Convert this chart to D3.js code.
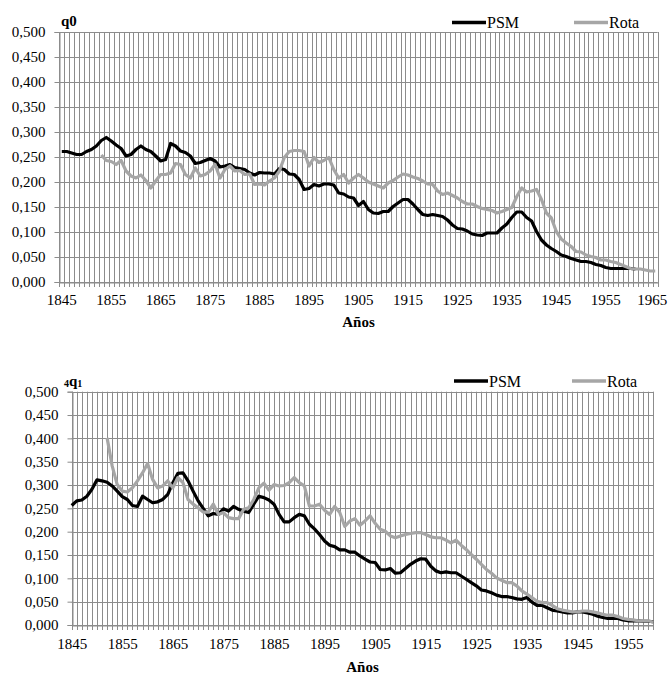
<!DOCTYPE html>
<html><head><meta charset="utf-8">
<script src="https://cdn.jsdelivr.net/npm/d3@7"></script>
<style>
html,body{margin:0;padding:0;background:#fff;}
svg{display:block;}
</style></head>
<body><svg id="c" width="668" height="676" font-family="Liberation Serif"></svg>
<script>
// ---------- DATA ----------
const seriesNames = ["PSM", "Rota"];
const yTicks = [0, 0.05, 0.1, 0.15, 0.2, 0.25, 0.3, 0.35, 0.4, 0.45, 0.5];
const xLabelYears = [1845, 1855, 1865, 1875, 1885, 1895, 1905, 1915, 1925, 1935, 1945, 1955, 1965];
const xLabelYears2 = [1845, 1855, 1865, 1875, 1885, 1895, 1905, 1915, 1925, 1935, 1945, 1955];

// Chart 1: q0
const q0Years = d3.range(1845, 1966);
const q0PsmStart = 1845;
const q0Psm = [0.261,0.261,0.258,0.255,0.255,0.261,0.265,0.272,0.283,0.289,
  0.282,0.274,0.267,0.252,0.255,0.265,0.272,0.265,0.261,0.252,
  0.242,0.245,0.277,0.272,0.262,0.259,0.252,0.237,0.239,0.243,
  0.247,0.242,0.230,0.232,0.235,0.229,0.227,0.225,0.218,0.214,
  0.219,0.218,0.218,0.216,0.227,0.225,0.216,0.215,0.205,0.185,
  0.187,0.195,0.192,0.196,0.196,0.194,0.178,0.176,0.170,0.168,
  0.153,0.161,0.145,0.138,0.137,0.141,0.141,0.151,0.158,0.165,
  0.165,0.156,0.145,0.135,0.133,0.135,0.133,0.131,0.124,0.114,
  0.107,0.106,0.102,0.096,0.094,0.093,0.098,0.098,0.098,0.108,
  0.116,0.129,0.140,0.140,0.129,0.122,0.101,0.084,0.074,0.067,
  0.061,0.054,0.051,0.047,0.044,0.041,0.041,0.039,0.035,0.033,
  0.029,0.027,0.027,0.027,0.027,0.027,0.026];
const q0RotaStart = 1853;
const q0Rota = [0.254,0.243,
  0.241,0.235,0.243,0.222,0.212,0.208,0.214,0.203,0.188,0.202,
  0.215,0.215,0.218,0.237,0.235,0.215,0.208,0.228,0.212,0.215,
  0.222,0.235,0.208,0.225,0.232,0.222,0.223,0.215,0.216,0.195,
  0.196,0.194,0.202,0.208,0.222,0.249,0.261,0.263,0.263,0.261,
  0.232,0.249,0.239,0.243,0.249,0.225,0.208,0.215,0.198,0.208,
  0.215,0.208,0.200,0.196,0.192,0.188,0.198,0.203,0.210,0.216,
  0.214,0.210,0.207,0.202,0.196,0.195,0.182,0.175,0.178,0.173,
  0.168,0.161,0.156,0.156,0.151,0.147,0.145,0.143,0.138,0.141,
  0.145,0.149,0.171,0.188,0.180,0.182,0.185,0.165,0.138,0.128,
  0.101,0.086,0.078,0.071,0.061,0.060,0.054,0.051,0.049,0.044,
  0.044,0.041,0.039,0.035,0.031,0.027,0.026,0.026,0.024,0.022,
  0.022];

// Chart 2: 4q1
const q1Years = d3.range(1845, 1961);
const q1PsmStart = 1845;
const q1Psm = [0.256,0.266,0.268,0.276,0.291,0.311,0.309,0.306,0.298,0.287,
  0.275,0.269,0.256,0.254,0.276,0.269,0.262,0.264,0.269,0.280,
  0.305,0.325,0.326,0.309,0.287,0.266,0.250,0.234,0.239,0.237,
  0.249,0.244,0.254,0.248,0.244,0.241,0.259,0.276,0.273,0.268,
  0.259,0.237,0.221,0.221,0.230,0.237,0.234,0.216,0.206,0.194,
  0.180,0.171,0.168,0.161,0.161,0.156,0.156,0.148,0.141,0.135,
  0.134,0.119,0.118,0.121,0.111,0.112,0.121,0.130,0.137,0.142,
  0.141,0.126,0.116,0.112,0.114,0.112,0.112,0.105,0.098,0.091,
  0.084,0.075,0.073,0.069,0.064,0.061,0.061,0.059,0.056,0.055,
  0.059,0.049,0.042,0.042,0.037,0.032,0.030,0.028,0.026,0.026,
  0.028,0.028,0.026,0.023,0.019,0.016,0.014,0.014,0.014,0.011,
  0.009,0.009,0.009,0.008,0.008,0.007];
const q1RotaStart = 1852;
const q1Rota = [0.401,0.341,0.301,
  0.287,0.285,0.294,0.309,0.326,0.346,0.312,0.294,0.298,0.309,
  0.294,0.316,0.305,0.269,0.259,0.251,0.242,0.242,0.259,0.237,
  0.241,0.230,0.228,0.228,0.248,0.251,0.269,0.294,0.304,0.289,
  0.301,0.298,0.299,0.305,0.316,0.305,0.298,0.255,0.255,0.259,
  0.246,0.237,0.254,0.241,0.211,0.223,0.228,0.214,0.223,0.234,
  0.218,0.205,0.201,0.191,0.187,0.191,0.194,0.196,0.198,0.198,
  0.194,0.189,0.187,0.187,0.182,0.176,0.182,0.171,0.162,0.151,
  0.141,0.130,0.119,0.111,0.101,0.096,0.091,0.091,0.084,0.073,
  0.066,0.059,0.051,0.048,0.048,0.042,0.035,0.032,0.030,0.028,
  0.028,0.030,0.030,0.028,0.026,0.023,0.021,0.021,0.018,0.014,
  0.012,0.011,0.009,0.009,0.009,0.006];

// ---------- DRAW ----------
const FONT = "Liberation Serif";
const svg = d3.select("#c");
const loc = d3.formatLocale({decimal: ",", thousands: ".", grouping: [3], currency: ["", ""]});
const fmt = loc.format(".3f");
const gridColor = "#8c8c8c";
const colors = {PSM: "#000000", Rota: "#a6a6a6"};

function toPoints(start, vals) { return vals.map((v, i) => ({year: start + i, v})); }

function drawChart(cfg) {
  const g = svg.append("g").attr("font-family", FONT);
  const y = d3.scaleLinear().domain([0, 0.5]).range([cfg.bottom, cfg.top]);
  let xPos, gridXs;
  if (cfg.band) {
    const xb = d3.scaleBand().domain(cfg.years).range([cfg.left, cfg.right]);
    xPos = yr => xb(yr) + xb.bandwidth() / 2;
    gridXs = cfg.years.map(yr => xb(yr)).concat([cfg.right]);
    cfg.xScale = xb;
  } else {
    const xp = d3.scalePoint().domain(cfg.years).range([cfg.left, cfg.right]);
    xPos = yr => xp(yr);
    gridXs = cfg.years.map(yr => xp(yr));
    cfg.xScale = xp;
  }
  g.append("g").selectAll("line").data(yTicks).join("line")
    .attr("x1", cfg.left).attr("x2", cfg.right)
    .attr("y1", d => Math.round(y(d)) + 0.5).attr("y2", d => Math.round(y(d)) + 0.5)
    .attr("stroke", gridColor).attr("stroke-width", 1);
  g.append("g").selectAll("line").data(gridXs).join("line")
    .attr("x1", d => Math.round(d) + 0.5).attr("x2", d => Math.round(d) + 0.5)
    .attr("y1", cfg.top).attr("y2", cfg.bottom + 5)
    .attr("stroke", gridColor).attr("stroke-width", 1);
  const ya = g.append("g").attr("transform", `translate(${Math.round(cfg.left) + 0.5},0)`)
    .call(d3.axisLeft(y).tickValues(yTicks).tickFormat(fmt).tickSize(5).tickPadding(9));
  ya.attr("font-family", FONT).attr("font-size", 15);
  ya.select(".domain").attr("stroke", gridColor);
  ya.selectAll(".tick line").attr("stroke", gridColor);
  ya.selectAll(".tick text").attr("fill", "#000");
  const xa = g.append("g").attr("transform", `translate(0,${Math.round(cfg.bottom) + 0.5})`)
    .call(d3.axisBottom(cfg.xScale).tickValues(cfg.labelYears).tickSize(0).tickPadding(cfg.labelPad));
  xa.attr("font-family", FONT).attr("font-size", 15);
  xa.select(".domain").attr("stroke", gridColor);
  xa.selectAll(".tick text").attr("fill", "#000")
    .attr("dx", d => d === 1965 ? -3 : 0);
  g.append("text").attr("x", (cfg.left + cfg.right) / 2).attr("y", cfg.xTitleY)
    .attr("text-anchor", "middle").attr("font-size", 15).attr("font-weight", "bold").text("Años");
  const line = d3.line().x(d => xPos(d.year)).y(d => y(d.v));
  cfg.series.forEach(s => {
    g.append("path").datum(toPoints(s.start, s.values))
      .attr("fill", "none").attr("stroke", colors[s.name]).attr("stroke-width", 3.2)
      .attr("stroke-linejoin", "round").attr("d", line);
  });
  const lg = g.append("g");
  cfg.legend.forEach((L, i) => {
    lg.append("line").attr("x1", L.x).attr("x2", L.x + 34).attr("y1", cfg.legendY).attr("y2", cfg.legendY)
      .attr("stroke", colors[seriesNames[i]]).attr("stroke-width", 3.5);
    lg.append("text").attr("x", L.x + 35).attr("y", cfg.legendY + 5.5)
      .attr("font-size", 16).text(seriesNames[i]);
  });
  return g;
}

const g1 = drawChart({
  band: true, years: q0Years, left: 59.3, right: 657.7, top: 32, bottom: 282,
  labelYears: xLabelYears, labelPad: 12, xTitleY: 327,
  series: [{name: "PSM", start: q0PsmStart, values: q0Psm}, {name: "Rota", start: q0RotaStart, values: q0Rota}],
  legend: [{x: 452}, {x: 574}], legendY: 22.5
});
g1.append("text").attr("x", 61).attr("y", 26)
  .attr("font-size", 15).attr("font-weight", "bold").text("q0");

const g2 = drawChart({
  band: false, years: q1Years, left: 71.7, right: 653.3, top: 391.7, bottom: 625,
  labelYears: xLabelYears2, labelPad: 13, xTitleY: 672,
  series: [{name: "PSM", start: q1PsmStart, values: q1Psm}, {name: "Rota", start: q1RotaStart, values: q1Rota}],
  legend: [{x: 454}, {x: 572}], legendY: 381
});
const t2 = g2.append("text").attr("x", 64).attr("y", 387).attr("font-weight", "bold");
t2.append("tspan").attr("font-size", 10).attr("dy", 0).text("4");
t2.append("tspan").attr("font-size", 15).attr("dy", -1).text("q");
t2.append("tspan").attr("font-size", 10).attr("dy", 1).text("1");
</script></body></html>
